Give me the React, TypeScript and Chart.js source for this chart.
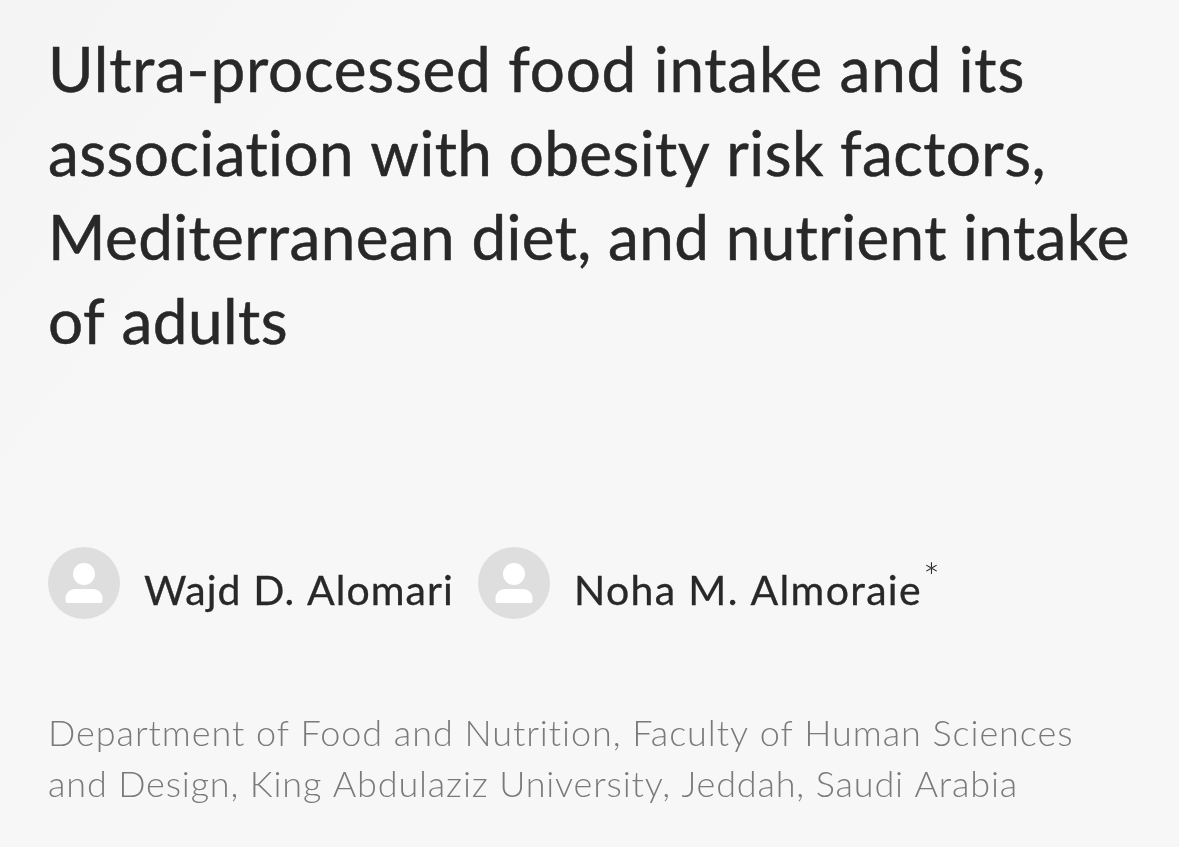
import React, { useEffect, useRef } from "react";
import { Chart, registerables } from "chart.js";

Chart.register(...registerables);

const titleLines = [
  "Ultra-processed food intake and its",
  "association with obesity risk factors,",
  "Mediterranean diet, and nutrient intake",
  "of adults",
];
const authorNames = ["Wajd D. Alomari", "Noha M. Almoraie"];
const affiliationLines = [
  "Department of Food and Nutrition, Faculty of Human Sciences",
  "and Design, King Abdulaziz University, Jeddah, Saudi Arabia",
];
const correspondingMark = "*";
const avatarCentreX = [84, 514];
const avatarCentreY = [583, 583];
const avatarHeadY = [574, 574];

const W = 1179;
const H = 847;
const FONT = "Lato, 'Open Sans', sans-serif";

function fitted(
  ctx: CanvasRenderingContext2D,
  text: string,
  x: number,
  y: number,
  width: number,
  size: number,
  color: string,
  thicken = 0,
  weight = 400
) {
  ctx.font = `${weight} ${size}px ${FONT}`;
  ctx.fillStyle = color;
  ctx.strokeStyle = color;
  ctx.lineWidth = thicken;
  ctx.textAlign = "left";
  ctx.textBaseline = "alphabetic";
  (ctx as any).letterSpacing = "0px";
  const natural = ctx.measureText(text).width;
  (ctx as any).letterSpacing = `${(width - natural) / text.length}px`;
  ctx.fillText(text, x, y);
  if (thicken > 0) ctx.strokeText(text, x, y);
  (ctx as any).letterSpacing = "0px";
}

const pagePlugin = {
  id: "page",
  beforeDraw(chart: any) {
    const { ctx } = chart;
    const g = ctx.createLinearGradient(0, 0, 260, 200);
    g.addColorStop(0, "#f4f4f4");
    g.addColorStop(1, "#f7f7f7");
    ctx.save();
    ctx.fillStyle = g;
    ctx.fillRect(0, 0, W, H);
    ctx.restore();
  },
  afterDraw(chart: any) {
    const { ctx, scales } = chart;
    ctx.save();
    const titleWidths = [977, 999, 1082, 240];
    titleLines.forEach((line, i) => fitted(ctx, line, 48, 92 + 84 * i, titleWidths[i], 62, "#282828", 0.5));
    fitted(ctx, authorNames[0], 144, 605, 310, 41, "#282828", 0.3);
    fitted(ctx, authorNames[1], 574, 605, 348, 41, "#282828", 0.3);
    fitted(ctx, correspondingMark, 923, 592, 16, 40, "#282828", 0, 300);
    const affiliationWidths = [1026, 970];
    affiliationLines.forEach((line, i) =>
      fitted(ctx, line, 48, 746 + 51 * i, affiliationWidths[i], 36, "#7a7a7a", 0, 300)
    );
    // shoulders of the avatar glyphs
    ctx.fillStyle = "#ffffff";
    avatarCentreX.forEach((cx, i) => {
      const px = scales.x.getPixelForValue(cx);
      const py = scales.y.getPixelForValue(avatarCentreY[i]);
      ctx.beginPath();
      ctx.roundRect(px - 18.5, py + 6, 37, 14, [9, 9, 2, 2]);
      ctx.fill();
    });
    ctx.restore();
  },
};

export default function App() {
  const ref = useRef<HTMLCanvasElement>(null);
  useEffect(() => {
    document.body.style.margin = "0";
    document.body.style.background = "#f7f7f7";
    const chart = new Chart(ref.current!, {
      type: "scatter",
      data: {
        datasets: [
          {
            label: "head",
            data: avatarCentreX.map((x, i) => ({ x, y: avatarHeadY[i] })),
            pointRadius: 11,
            pointBorderWidth: 0,
            backgroundColor: "#ffffff",
          },
          {
            label: "avatar",
            data: avatarCentreX.map((x, i) => ({ x, y: avatarCentreY[i] })),
            pointRadius: 36,
            pointBorderWidth: 0,
            backgroundColor: "#dedede",
          },
        ],
      },
      options: {
        animation: false,
        responsive: false,
        devicePixelRatio: 1,
        layout: { padding: 0, autoPadding: false },
        plugins: { legend: { display: false }, tooltip: { enabled: false }, title: { display: false } },
        scales: {
          x: { type: "linear", min: 0, max: W, display: false },
          y: { type: "linear", min: 0, max: H, reverse: true, display: false },
        },
      },
      plugins: [pagePlugin],
    });
    return () => chart.destroy();
  }, []);
  return <canvas ref={ref} width={W} height={H} style={{ display: "block" }} />;
}
